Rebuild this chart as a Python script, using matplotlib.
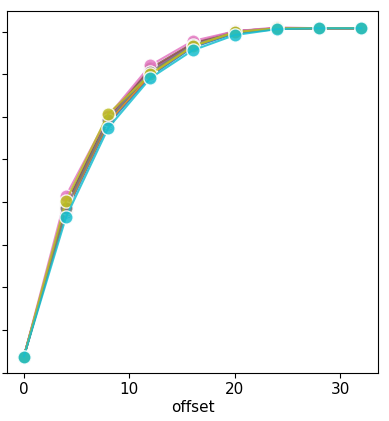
import matplotlib
matplotlib.use("Agg")
import matplotlib.pyplot as plt

offsets = [0, 4, 8, 12, 16, 20, 24, 28, 32]
series_names = ["s0", "s1", "s2", "s3", "s4", "s5", "s6", "s7", "s8", "s9"]
series_values = [
    [0.0375, 0.377, 0.583, 0.696, 0.763, 0.796, 0.806, 0.808, 0.808],
    [0.0375, 0.382, 0.588, 0.700, 0.766, 0.799, 0.808, 0.808, 0.808],
    [0.0375, 0.389, 0.593, 0.705, 0.768, 0.799, 0.808, 0.808, 0.808],
    [0.0375, 0.393, 0.597, 0.710, 0.770, 0.801, 0.808, 0.808, 0.808],
    [0.0375, 0.398, 0.595, 0.710, 0.770, 0.801, 0.808, 0.808, 0.808],
    [0.0375, 0.391, 0.600, 0.714, 0.773, 0.801, 0.808, 0.808, 0.808],
    [0.0375, 0.415, 0.602, 0.721, 0.778, 0.801, 0.810, 0.808, 0.808],
    [0.0375, 0.386, 0.593, 0.705, 0.768, 0.799, 0.808, 0.808, 0.808],
    [0.0375, 0.403, 0.607, 0.700, 0.766, 0.799, 0.808, 0.808, 0.808],
    [0.0375, 0.365, 0.574, 0.691, 0.756, 0.792, 0.806, 0.808, 0.808],
]
colors = ["tab:blue", "tab:orange", "tab:green", "tab:red", "tab:purple",
          "tab:brown", "tab:pink", "tab:gray", "tab:olive", "tab:cyan"]
y_ticks = [0.0, 0.1, 0.2, 0.3, 0.4, 0.5, 0.6, 0.7, 0.8]

fig = plt.figure(figsize=(3.89, 4.21), dpi=100)
ax = fig.add_axes([0.018, 0.114, 0.954, 0.860])
for name, vals, c in zip(series_names, series_values, colors):
    ax.plot(offsets, vals, color=c, lw=1.5, marker="o", markersize=9.5,
            markeredgecolor="white", markeredgewidth=1.0, alpha=0.85, label=name)
ax.set_yticks(y_ticks)
ax.set_yticklabels([""] * len(y_ticks))
ax.set_xticks([0, 10, 20, 30])
ax.tick_params(axis="x", labelsize=11, pad=3)
ax.set_xlabel("offset", fontsize=11, labelpad=2)
fig.savefig("out.png", dpi=100)
